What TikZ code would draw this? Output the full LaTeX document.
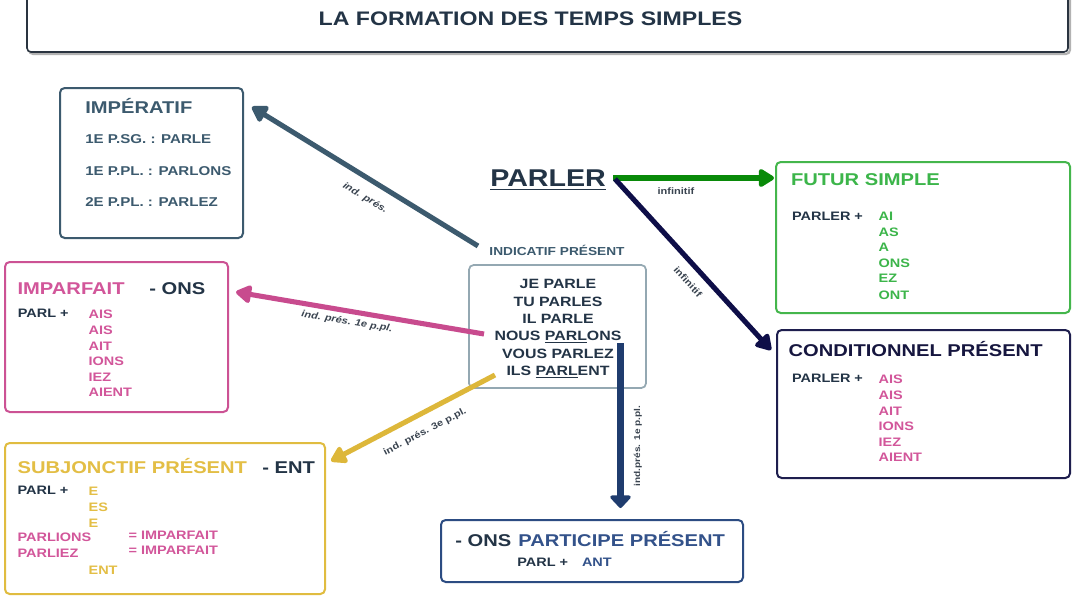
\documentclass[tikz,border=0pt]{standalone}
\usepackage{fontspec}
\setmainfont{Liberation Sans}
\usetikzlibrary{arrows.meta,fit}
\definecolor{dk}{HTML}{233446}
\definecolor{tb}{HTML}{2A3440}
\definecolor{imp}{HTML}{3C5A6E}
\definecolor{pkA}{HTML}{C84B8E}
\definecolor{pk}{HTML}{D2569A}
\definecolor{pkB}{HTML}{CC5294}
\definecolor{ylA}{HTML}{DDB73A}
\definecolor{yl}{HTML}{E3BE45}
\definecolor{ylB}{HTML}{E0BC40}
\definecolor{grA}{HTML}{098A09}
\definecolor{grB}{HTML}{44B64C}
\definecolor{gr}{HTML}{3CB54A}
\definecolor{nvA}{HTML}{0E0E48}
\definecolor{nvB}{HTML}{1E1E4E}
\definecolor{nv}{HTML}{16163F}
\definecolor{blA}{HTML}{1F3C6E}
\definecolor{blB}{HTML}{2C4C82}
\definecolor{bl}{HTML}{33528A}
\definecolor{ind}{HTML}{94A8B2}
\definecolor{lb}{HTML}{3A4450}
\begin{document}
\begin{tikzpicture}[x=0.75pt,y=-0.75pt,
  box/.style={draw=#1, line width=1.5pt, rounded corners=3.5pt, inner sep=0pt},
  txt/.style={inner sep=0pt, anchor=base west, xscale=1.18, text=#1},
  txt/.default=dk,
  hdr/.style={txt=#1, font=\bfseries\fontsize{12.8}{15}\selectfont},
  hdr/.default=dk,
  bdy/.style={txt=#1, font=\bfseries\fontsize{9.2}{11}\selectfont},
  bdy/.default=dk,
  lbl/.style={inner sep=0pt, text=lb, font=\bfseries\fontsize{7}{8}\selectfont, xscale=1.18},
  arrw/.style={draw=#1, line width=3.8pt, -{Triangle[length=13pt,width=15pt,round]}},
]
\useasboundingbox (0,0) rectangle (1072,603);
\fill[white] (0,0) rectangle (1072,603);

% title
\draw[gray!60, line width=1.6pt, rounded corners=3pt] (29,-10) rectangle (1070,54);
\node[fit={(27,-10) (1068,52)}, draw=tb, line width=1.2pt, rounded corners=3pt, inner sep=0pt, fill=white] (titlebox) {};
\node[txt, anchor=base, font=\bfseries\fontsize{14.7}{17}\selectfont] (title) at (530.5,26) {LA FORMATION DES TEMPS SIMPLES};

% boxes
\node[box=imp, fit={(60,88) (243,238)}] (impbox) {};
\node[box=pkB, fit={(5,262) (228,412)}] (ipfbox) {};
\node[box=ylB, fit={(5,443) (325,594)}] (subbox) {};
\node[box=ind, line width=1.3pt, fit={(469,265) (646,388)}] (indbox) {};
\node[box=blB, fit={(441,520) (743,582)}] (partbox) {};
\node[box=grB, fit={(776,162) (1070,313)}] (futbox) {};
\node[box=nvB, fit={(777,330) (1070,478)}] (condbox) {};

% imperatif
\node[hdr=imp] (imph) at (85,113) {IMPÉRATIF};
\node[bdy=imp, font=\bfseries\fontsize{9.6}{11}\selectfont] (imp1) at (85,143) {1E P.SG. : PARLE};
\node[bdy=imp, font=\bfseries\fontsize{9.6}{11}\selectfont] (imp2) at (85,175) {1E P.PL. : PARLONS};
\node[bdy=imp, font=\bfseries\fontsize{9.6}{11}\selectfont] (imp3) at (85,206.5) {2E P.PL. : PARLEZ};

% imparfait
\node[hdr=pk] (ipfh) at (17.3,294.3) {IMPARFAIT};
\node[hdr] (ipfons) at (149,294.3) {- ONS};
\node[bdy] (ipfparl) at (17.5,317.7) {PARL +};
\foreach \w/\y [count=\i] in {AIS/318.3, AIS/334, AIT/350, IONS/365.7, IEZ/381, AIENT/396.3}
  \node[bdy=pk] (ipfE\i) at (88.3,\y) {\w};

% subjonctif
\node[hdr=yl] (subh) at (17.3,473.3) {SUBJONCTIF PRÉSENT};
\node[hdr] (subent) at (262,473.3) {- ENT};
\node[bdy] (subparl) at (17.3,494) {PARL +};
\foreach \w/\y [count=\i] in {E/495, ES/511.7, E/527.3, ENT/574}
  \node[bdy=yl] (subE\i) at (88.3,\y) {\w};
\node[bdy=pk] (subions) at (17.3,541.7) {PARLIONS};
\node[bdy=pk] (subiez) at (17.3,557.3) {PARLIEZ};
\node[bdy=pk] (subeq1) at (128.3,539.3) {= IMPARFAIT};
\node[bdy=pk] (subeq2) at (128.3,554.3) {= IMPARFAIT};

% parler + indicatif
\node[txt, font=\bfseries\fontsize{18.2}{21}\selectfont] (parler) at (490,186) {PARLER};
\draw[dk, line width=1.3pt] ([yshift=-2.6pt]parler.base west) -- ([yshift=-2.6pt]parler.base east);
\node[txt=imp, anchor=base, font=\bfseries\fontsize{8.7}{10}\selectfont] (indh) at (557,255) {INDICATIF PRÉSENT};
\foreach \w/\y [count=\i] in {JE PARLE/288, TU PARLES/306, IL PARLE/323.3, NOUS \underline{PARL}ONS/340.7, VOUS PARLEZ/358.3, ILS \underline{PARL}ENT/375.7}
  \node[txt, anchor=base, font=\bfseries\fontsize{10.1}{12}\selectfont] (ind\i) at (558,\y) {\w};

% participe
\node[hdr] (partons) at (455,546.7) {- ONS};
\node[hdr=bl] (parth) at (518,546.7) {PARTICIPE PRÉSENT};
\node[bdy] (partparl) at (517,566.7) {PARL +};
\node[bdy=bl] (partant) at (581.7,566.7) {ANT};

% futur
\node[hdr=gr] (futh) at (790.7,185.7) {FUTUR SIMPLE};
\node[bdy] (futparl) at (791.7,220) {PARLER +};
\foreach \w/\y [count=\i] in {AI/220, AS/236, A/251.7, ONS/267.3, EZ/282.7, ONT/299}
  \node[bdy=gr] (futE\i) at (878.3,\y) {\w};

% conditionnel
\node[hdr=nv] (condh) at (788.3,356.7) {CONDITIONNEL PRÉSENT};
\node[bdy] (condparl) at (791.7,382.7) {PARLER +};
\foreach \w/\y [count=\i] in {AIS/383.3, AIS/399.3, AIT/415, IONS/430.7, IEZ/446.7, AIENT/461.7}
  \node[bdy=pk] (condE\i) at (878.3,\y) {\w};

% arrow endpoints
\coordinate (aImpS) at (478,246);
\coordinate (aImpT) at (252,107);
\coordinate (aPkS) at (484,334);
\coordinate (aPkT) at (236,292);
\coordinate (aYlS) at (495,375);
\coordinate (aYlT) at (331,461);
\coordinate (aBlS) at (620.5,343);
\coordinate (aBlT) at (620.5,508);
\coordinate (aGrS) at (613,178);
\coordinate (aGrT) at (774,178);
\coordinate (aNvS) at (615,179);
\coordinate (aNvT) at (771,350);

\draw[arrw=imp] (aImpS) -- (aImpT);
\draw[arrw=pkA] (aPkS) -- (aPkT);
\draw[arrw=ylA] (aYlS) -- (aYlT);
\draw[arrw=blA, line width=4.6pt, -{Triangle[length=10pt,width=18pt,round]}] (aBlS) -- (aBlT);
\draw[arrw=grA] (aGrS) -- (aGrT);
\draw[arrw=nvA] (aNvS) -- (aNvT);

% labels
\node[rotate=-31, lbl, font=\bfseries\itshape\fontsize{7}{8}\selectfont] (lImp) at (365,198) {ind. prés.};
\node[rotate=-9.4, lbl, font=\bfseries\itshape\fontsize{7}{8}\selectfont] (lPk) at (347,322) {ind. prés. 1e p.pl.};
\node[rotate=27.5, lbl] (lYl) at (425,432) {ind. prés. 3e p.pl.};
\node[rotate=90, lbl, font=\bfseries\fontsize{6.4}{8}\selectfont] (lBl) at (638,446) {ind.prés. 1e p.pl.};
\node[lbl] (lGr) at (676,191) {infinitif};
\node[rotate=-47.7, lbl] (lNv) at (688,282) {infinitif};
\end{tikzpicture}
\end{document}
